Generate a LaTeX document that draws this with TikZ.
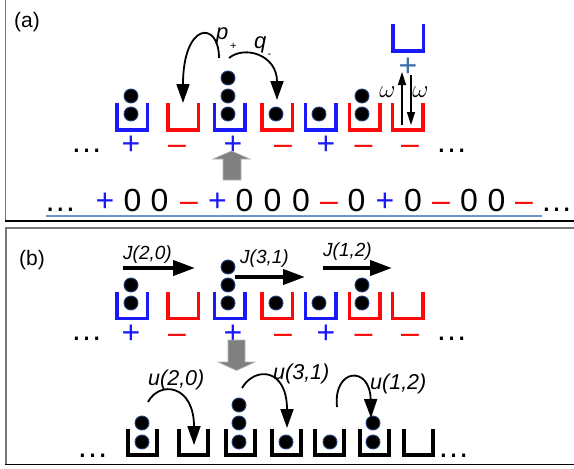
\documentclass[tikz,border=0pt]{standalone}
\usepackage{fontspec}
\setmainfont{Liberation Sans}
\usetikzlibrary{arrows.meta}

\definecolor{urnblue}{RGB}{25,25,250}
\definecolor{urnred}{RGB}{250,10,10}
\definecolor{steelplus}{RGB}{60,110,170}
\definecolor{linerule}{RGB}{110,150,205}
\definecolor{rim}{RGB}{35,65,120}
\definecolor{framegray}{RGB}{120,120,120}
\definecolor{blockgray}{RGB}{128,128,128}

\tikzset{
  urnbox/.style={minimum width=30.5pt,minimum height=27pt,inner sep=0pt,outer sep=0pt},
  urnwall/.style={line width=3.5pt},
  plainbox/.style={minimum width=29pt,minimum height=26pt,inner sep=0pt,outer sep=0pt},
  plainwall/.style={line width=4pt,black},
  ball/.style={circle,fill=black,draw=rim,line width=0.9pt,minimum size=14pt,inner sep=0pt},
  big/.style={font=\fontsize{32}{32}\selectfont,anchor=base,inner sep=0pt},
  tag/.style={font=\fontsize{21}{21}\selectfont,anchor=base west,inner sep=0pt},
  rate/.style={font=\fontsize{22}{22}\selectfont\itshape,anchor=base west,inner sep=0pt},
  subtag/.style={font=\fontsize{11}{11}\selectfont,anchor=base west,inner sep=0pt},
  jlab/.style={font=\fontsize{19}{19}\selectfont\itshape,anchor=base west,inner sep=0pt},
  ulab/.style={font=\fontsize{21.5}{21.5}\selectfont\itshape,anchor=base west,inner sep=0pt},
  omegalab/.style={font=\Huge,inner sep=0pt},
  hop/.style={line width=1.8pt,-{Triangle[length=19pt,width=13pt]}},
  flip/.style={line width=1.5pt,-{Triangle[length=13pt,width=8pt]}},
  flux/.style={line width=4pt,-{Triangle[length=22pt,width=15pt]}},
  block/.style={fill=blockgray,draw=blockgray!60,line width=0.6pt}
}

% an open-topped urn: name, x, y, colour
\newcommand\urn[4]{%
  \node[urnbox] (#1) at (#2,#3) {};
  \draw[urnwall,#4] (#1.north west) -- (#1.south west) -- (#1.south east) -- (#1.north east);}
% a black urn of the lower row: name, x, y
\newcommand\plainurn[3]{%
  \node[plainbox] (#1) at (#2,#3) {};
  \draw[plainwall] (#1.north west) -- (#1.south west) -- (#1.south east) -- (#1.north east);}

\begin{document}
\begin{tikzpicture}[x=1pt,y=-1pt]
\useasboundingbox (0,0) rectangle (574,469);

% panel frames
\draw[framegray,line width=1.5pt] (5.5,-2) -- (5.5,221);
\draw[black,line width=1.2pt] (5,221) -- (576,221);
\draw[framegray,line width=2pt] (5,228) -- (576,228);
\draw[framegray,line width=1.5pt] (6,228) -- (6,464.5);
\draw[black,line width=1.2pt] (5,464.5) -- (576,464.5);

% ---------------- panel (a) ----------------
\node[tag] (taga) at (14,27.5) {(a)};

\urn{a1}{132}{116.5}{urnblue}
\urn{a2}{183}{116.5}{urnred}
\urn{a3}{229.5}{116.5}{urnblue}
\urn{a4}{277}{116.5}{urnred}
\urn{a5}{320.5}{116.5}{urnblue}
\urn{a6}{364.5}{116.5}{urnred}
\urn{a7}{407.5}{116.5}{urnred}
\urn{atop}{408}{37.5}{urnblue}

\node[ball] (a1p1) at (131,114) {};
\node[ball] (a1p2) at (131,96) {};
\node[ball] (a3p1) at (228,114) {};
\node[ball] (a3p2) at (228,96) {};
\node[ball] (a3p3) at (228,78) {};
\node[ball] (a4p1) at (276,114) {};
\node[ball] (a5p1) at (319,114) {};
\node[ball] (a6p1) at (362,114) {};
\node[ball] (a6p2) at (362,96) {};

\node[big,text=urnblue] (sa1) at (131,154) {+};
\node[big,text=urnred]  (sa2) at (177,154) {–};
\node[big,text=urnblue] (sa3) at (233,154) {+};
\node[big,text=urnred]  (sa4) at (283,154) {–};
\node[big,text=urnblue] (sa5) at (326,154) {+};
\node[big,text=urnred]  (sa6) at (363.5,154) {–};
\node[big,text=urnred]  (sa7) at (410,154) {–};
\node[big,text=steelplus] (satop) at (408,76) {+};

\node[big] (dotsa1) at (86.5,152) {…};
\node[big] (dotsa2) at (451.5,152) {…};

% hopping rates
\coordinate (pstart) at (219,58);
\coordinate (qstart) at (229,58);
\coordinate (qend) at (277,100);
\draw[hop] (pstart) .. controls (219,20) and (183,22) .. (a2.north);
\draw[hop] (qstart) .. controls (245,45) and (277,55) .. (qend);
\node[rate] (plab) at (216,39.5) {p};
\node[subtag] (psub) at (230,49.5) {+};
\node[rate] (qlab) at (254,48.5) {q};
\node[subtag] (qsub) at (267.5,57) {-};

% flipping of the last urn
\coordinate (wupa) at (402,125);
\coordinate (wupb) at (402,72);
\coordinate (wdna) at (411,75);
\coordinate (wdnb) at (411,125);
\draw[flip] (wupa) -- (wupb);
\draw[flip] (wdna) -- (wdnb);
\node[omegalab] (wl) at (387.5,92) {$\omega$};
\node[omegalab] (wr) at (420.5,92) {$\omega$};

% mapping arrow
\draw[block] (223,180) -- (223,159) -- (213,159) -- (231.5,151) -- (250,159)
  -- (241,159) -- (241,180) -- cycle;

% sequence of signs and zeros
\foreach \x/\c/\s [count=\i] in {105/urnblue/+, 132.5/black/0, 159.5/black/0,
  189/urnred/–, 217.5/urnblue/+, 244.5/black/0, 272.5/black/0, 301/black/0,
  329/urnred/–, 356.5/black/0, 385/urnblue/+, 413/black/0, 441/urnred/–,
  469/black/0, 496.5/black/0, 524/urnred/–}
  \node[big,text=\c] (seq\i) at (\x,211) {\s};
\node[big] (dotsl) at (60.5,211) {…};
\node[big] (dotsr) at (556.5,211) {…};
\draw[linerule,line width=1.3pt] (46,216) -- (542,216);

% ---------------- panel (b) ----------------
\node[tag] (tagb) at (19,265.5) {(b)};

\urn{b1}{132}{305}{urnblue}
\urn{b2}{183}{305}{urnred}
\urn{b3}{229.5}{305}{urnblue}
\urn{b4}{277}{305}{urnred}
\urn{b5}{320.5}{305}{urnblue}
\urn{b6}{364.5}{305}{urnred}
\urn{b7}{407.5}{305}{urnred}

\node[ball] (b1p1) at (131,303) {};
\node[ball] (b1p2) at (131,285) {};
\node[ball] (b3p1) at (228,303) {};
\node[ball] (b3p2) at (228,285) {};
\node[ball] (b3p3) at (228,267) {};
\node[ball] (b4p1) at (276,303) {};
\node[ball] (b5p1) at (319,303) {};
\node[ball] (b6p1) at (362,303) {};
\node[ball] (b6p2) at (362,285) {};

\node[big,text=urnblue] (sb1) at (131,343) {+};
\node[big,text=urnred]  (sb2) at (177,343) {–};
\node[big,text=urnblue] (sb3) at (233,343) {+};
\node[big,text=urnred]  (sb4) at (283,343) {–};
\node[big,text=urnblue] (sb5) at (326,343) {+};
\node[big,text=urnred]  (sb6) at (363.5,343) {–};
\node[big,text=urnred]  (sb7) at (410,343) {–};

\node[big] (dotsb1) at (86.5,340) {…};
\node[big] (dotsb2) at (451.5,340) {…};

% currents
\coordinate (j1a) at (123,268);
\coordinate (j1b) at (195,268);
\coordinate (j2a) at (235,277);
\coordinate (j2b) at (305,277);
\coordinate (j3a) at (323,268);
\coordinate (j3b) at (392,268);
\draw[flux] (j1a) -- (j1b);
\draw[flux] (j2a) -- (j2b);
\draw[flux] (j3a) -- (j3b);
\node[jlab] (jl1) at (123,259) {J(2,0)};
\node[jlab] (jl2) at (240,263) {J(3,1)};
\node[jlab] (jl3) at (323,256) {J(1,2)};

% mapping arrow
\draw[block] (228,340) -- (228,362) -- (218,362) -- (236.5,370.5) -- (255,362)
  -- (245,362) -- (245,340) -- cycle;

% lower row of urns
\plainurn{c1}{142}{442}
\plainurn{c2}{193.5}{442}
\plainurn{c3}{240}{442}
\plainurn{c4}{286}{442}
\plainurn{c5}{329.5}{442}
\plainurn{c6}{374.5}{442}
\plainurn{c7}{418}{442}

\node[ball] (c1p1) at (142,442) {};
\node[ball] (c1p2) at (142,423) {};
\node[ball] (c3p1) at (239,442) {};
\node[ball] (c3p2) at (239,423) {};
\node[ball] (c3p3) at (239,405) {};
\node[ball] (c4p1) at (286,442) {};
\node[ball] (c5p1) at (330,442) {};
\node[ball] (c6p1) at (373,442) {};
\node[ball] (c6p2) at (373,423) {};

\node[big] (dotsc1) at (92.5,457) {…};
\node[big] (dotsc2) at (453.5,457) {…};

% transfer rates
\coordinate (u1a) at (148,402);
\coordinate (u1b) at (194,445);
\coordinate (u2a) at (242,388);
\coordinate (u2b) at (287,428);
\coordinate (u3a) at (337,407);
\coordinate (u3b) at (371,418);
\draw[hop] (u1a) .. controls (160,380) and (194,385) .. (u1b);
\draw[hop] (u2a) .. controls (255,366) and (287,368) .. (u2b);
\draw[hop] (u3a) .. controls (333,368) and (370,365) .. (u3b);
\node[ulab] (ul1) at (148,385) {u(2,0)};
\node[ulab] (ul2) at (273,379) {u(3,1)};
\node[ulab] (ul3) at (370,389) {u(1,2)};
\end{tikzpicture}
\end{document}
